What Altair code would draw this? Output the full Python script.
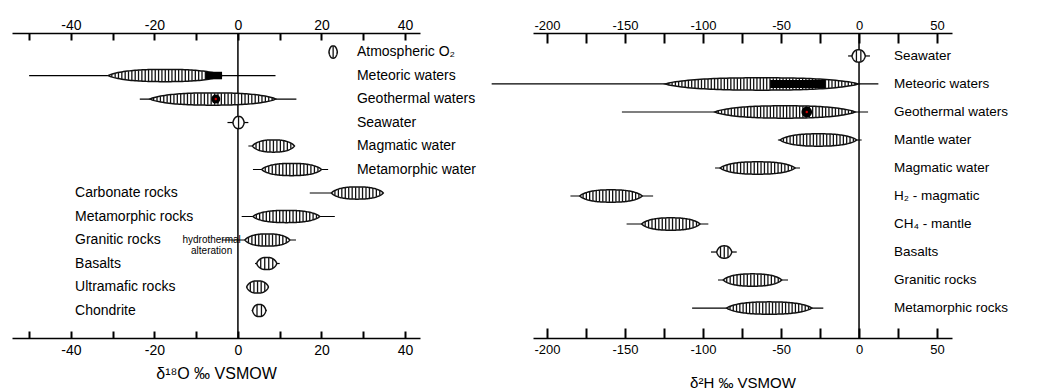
import altair as alt
import pandas as pd

FONT = "Liberation Sans"

# ---------------- δ18O panel data ----------------
o18_names = ["Atmospheric O₂", "Meteoric waters", "Geothermal waters", "Seawater",
             "Magmatic water", "Metamorphic water", "Carbonate rocks", "Metamorphic rocks",
             "Granitic rocks", "Basalts", "Ultramafic rocks", "Chondrite"]
o18_kind = ["water", "water", "water", "water", "water", "water",
            "rock", "rock", "rock", "rock", "rock", "rock"]
o18_lo = [21.8, -31.0, -21.0, -1.2, 3.5, 5.7, 22.4, 3.6, 1.7, 4.5, 2.1, 3.5]
o18_hi = [23.8, -3.8, 9.0, 1.5, 13.5, 20.0, 34.8, 19.6, 12.4, 9.3, 7.3, 6.7]
o18_min = [21.8, -50.0, -23.5, -2.5, 2.5, 3.6, 17.2, 0.9, -3.8, 4.1, 2.1, 3.3]
o18_max = [23.8, 9.0, 14.0, 2.5, 13.7, 21.6, 34.8, 23.2, 13.9, 10.0, 7.3, 6.9]
o18_box_row = ["Meteoric waters"]
o18_box_lo = [-7.7]
o18_box_hi = [-3.8]
o18_dot_row = ["Geothermal waters"]
o18_dot_x = [-5.3]
o18_label_ticks = [-40, -20, 0, 20, 40]
o18_minor_ticks = [-50, -40, -30, -20, -10, 0, 10, 20, 30, 40]

# ---------------- δ2H panel data ----------------
h2_names = ["Seawater", "Meteoric waters", "Geothermal waters", "Mantle water",
            "Magmatic water", "H₂ - magmatic", "CH₄ - mantle", "Basalts",
            "Granitic rocks", "Metamorphic rocks"]
h2_lo = [-4.5, -124.0, -92.3, -50.6, -89.0, -179.0, -139.3, -91.2, -87.0, -84.8]
h2_hi = [4.0, -0.6, -2.6, -1.5, -41.0, -139.0, -102.0, -81.6, -49.6, -30.3]
h2_min = [-7.0, -235.5, -152.0, -52.0, -92.3, -185.0, -149.0, -94.9, -90.4, -107.0]
h2_max = [7.0, 12.4, 5.8, 1.7, -37.8, -132.0, -96.6, -78.4, -45.5, -22.9]
h2_box_row = ["Meteoric waters"]
h2_box_lo = [-57.0]
h2_box_hi = [-21.8]
h2_dot_row = ["Geothermal waters"]
h2_dot_x = [-33.5]
h2_label_ticks = [-200, -150, -100, -50, 0, 50]
h2_minor_ticks = [-200, -175, -150, -125, -100, -75, -50, -25, 0, 25, 50]


def make_df(names, lo, hi, mn, mx, kind=None):
    d = pd.DataFrame({"name": names, "row": list(range(len(names))),
                      "lo": lo, "hi": hi, "wmin": mn, "wmax": mx})
    d["kind"] = kind if kind is not None else ["water"] * len(names)
    return d


# spindle envelope: long flat body, tapering tips
ENV = "pow(max(0, 1 - pow(abs(datum.u), 2.6)), 0.75)"


def panel(df, box_rows, box_lo, box_hi, dot_rows, dot_x, label_ticks, minor_ticks,
          xdom, ydom, width, height, half_h, box_h, step, tick_len, dot_size,
          tick_font, label_font, label_x_water, label_x_rock, title, title_size,
          title_pad, hydro=False):
    xs = alt.Scale(domain=xdom, nice=False, zero=False)
    ys = alt.Scale(domain=ydom, nice=False, zero=False, reverse=True)
    row_of = dict(zip(df["name"], df["row"]))
    N = 60

    layers = []

    # axes (independent axes on a shared scale)
    tdf = pd.DataFrame({"v": minor_ticks})
    common = dict(grid=False, title=None)
    layers.append(alt.Chart(tdf).mark_point(opacity=0).encode(
        x=alt.X("v:Q", scale=xs, axis=alt.Axis(
            orient="top", values=label_ticks, ticks=False, tickSize=0, domain=True,
            domainColor="black", domainWidth=1.6, labelPadding=1,
            labelFontSize=tick_font, labelFont=FONT, labelColor="black",
            labelExpr="'' + datum.value", **common))))
    layers.append(alt.Chart(tdf).mark_point(opacity=0).encode(
        x=alt.X("v:Q", scale=xs, axis=alt.Axis(
            orient="top", values=minor_ticks, ticks=True, tickSize=tick_len,
            tickWidth=2, tickColor="black", offset=-tick_len, domain=False,
            labels=False, **common))))
    layers.append(alt.Chart(tdf).mark_point(opacity=0).encode(
        x=alt.X("v:Q", scale=xs, axis=alt.Axis(
            orient="bottom", values=label_ticks, ticks=False, tickSize=0, domain=True,
            domainColor="black", domainWidth=1.6, labelPadding=5,
            labelFontSize=tick_font, labelFont=FONT, labelColor="black",
            labelExpr="'' + datum.value", grid=False, title=title,
            titleFont=FONT, titleFontSize=title_size, titleFontWeight="normal",
            titleColor="black", titlePadding=title_pad))))
    layers.append(alt.Chart(tdf).mark_point(opacity=0).encode(
        x=alt.X("v:Q", scale=xs, axis=alt.Axis(
            orient="bottom", values=minor_ticks, ticks=True, tickSize=tick_len,
            tickWidth=2, tickColor="black", offset=-tick_len, domain=False,
            labels=False, **common))))

    # zero line
    layers.append(alt.Chart(pd.DataFrame({"v": [0]})).mark_rule(
        color="black", strokeWidth=1.5).encode(
        x=alt.X("v:Q", scale=xs, axis=None)))

    # whiskers
    layers.append(alt.Chart(df).mark_rule(color="black", strokeWidth=1.2).encode(
        x=alt.X("wmin:Q", scale=xs, axis=None), x2="wmax:Q",
        y=alt.Y("row:Q", scale=ys, axis=None)))

    # spindle outlines
    layers.append(alt.Chart(df).transform_calculate(
        t=f"sequence(0, {N + 1})").transform_flatten(["t"]).transform_calculate(
        u=f"2 * datum.t / {N} - 1").transform_calculate(
        ex=f"datum.lo + (datum.hi - datum.lo) * datum.t / {N}").transform_calculate(
        hh=f"{half_h} * {ENV}").transform_calculate(
        ey1="datum.row - datum.hh").transform_calculate(
        ey2="datum.row + datum.hh").mark_area(
        fill="white", stroke="#111111", strokeWidth=1.5, orient="vertical").encode(
        x=alt.X("ex:Q", scale=xs, axis=None),
        y=alt.Y("ey1:Q", scale=ys, axis=None), y2="ey2:Q",
        detail="name:N"))

    # hatching
    layers.append(alt.Chart(df).transform_calculate(
        n=f"max(2, round((datum.hi - datum.lo) / {step}) - 1)").transform_calculate(
        k="sequence(1, datum.n)").transform_flatten(["k"]).transform_calculate(
        u="2 * datum.k / datum.n - 1").transform_calculate(
        sx="datum.lo + (datum.hi - datum.lo) * datum.k / datum.n").transform_calculate(
        hh=f"{half_h * 0.95} * {ENV}").transform_calculate(
        sy1="datum.row - datum.hh").transform_calculate(
        sy2="datum.row + datum.hh").mark_rule(color="#111111", strokeWidth=1.3).encode(
        x=alt.X("sx:Q", scale=xs, axis=None),
        y=alt.Y("sy1:Q", scale=ys, axis=None), y2="sy2:Q"))

    # black bar
    bdf = pd.DataFrame({"row": [row_of[r] for r in box_rows], "lo": box_lo, "hi": box_hi})
    layers.append(alt.Chart(bdf).transform_calculate(
        y1=f"datum.row - {box_h}").transform_calculate(
        y2=f"datum.row + {box_h}").mark_rect(color="black").encode(
        x=alt.X("lo:Q", scale=xs, axis=None), x2="hi:Q",
        y=alt.Y("y1:Q", scale=ys, axis=None), y2="y2:Q"))

    # black dot with red centre
    ddf = pd.DataFrame({"row": [row_of[r] for r in dot_rows], "x": dot_x})
    layers.append(alt.Chart(ddf).mark_point(filled=True, color="black", opacity=1,
                                            size=dot_size, shape="circle").encode(
        x=alt.X("x:Q", scale=xs, axis=None), y=alt.Y("row:Q", scale=ys, axis=None)))
    layers.append(alt.Chart(ddf).mark_point(filled=True, color="#d40000", opacity=1,
                                            size=6, shape="circle").encode(
        x=alt.X("x:Q", scale=xs, axis=None), y=alt.Y("row:Q", scale=ys, axis=None)))

    # labels
    layers.append(alt.Chart(df).transform_filter("datum.kind == 'water'").mark_text(
        align="left", baseline="middle", font=FONT, fontSize=label_font,
        color="black").encode(
        x=alt.X(datum=label_x_water, scale=xs, axis=None),
        y=alt.Y("row:Q", scale=ys, axis=None), text="name:N"))
    if label_x_rock is not None:
        layers.append(alt.Chart(df).transform_filter("datum.kind == 'rock'").mark_text(
            align="left", baseline="middle", font=FONT, fontSize=label_font,
            color="black").encode(
            x=alt.X(datum=label_x_rock, scale=xs, axis=None),
            y=alt.Y("row:Q", scale=ys, axis=None), text="name:N"))

    if hydro:
        hdf = pd.DataFrame({"row": [row_of["Granitic rocks"]], "x": [-6.3],
                            "txt": ["hydrothermal\nalteration"]})
        layers.append(alt.Chart(hdf).mark_text(
            align="center", baseline="middle", font=FONT, fontSize=10,
            lineBreak="\n", lineHeight=11, color="black").encode(
            x=alt.X("x:Q", scale=xs, axis=None),
            y=alt.Y("row:Q", scale=ys, axis=None), text="txt:N"))

    return alt.layer(*layers).resolve_axis(x="independent").properties(
        width=width, height=height)


o18_df = make_df(o18_names, o18_lo, o18_hi, o18_min, o18_max, o18_kind)
h2_df = make_df(h2_names, h2_lo, h2_hi, h2_min, h2_max)

left = panel(o18_df, o18_box_row, o18_box_lo, o18_box_hi, o18_dot_row, o18_dot_x,
             o18_label_ticks, o18_minor_ticks,
             xdom=[-54.1, 43.6], ydom=[-0.81, 12.17], width=408, height=305,
             half_h=0.26, box_h=0.16, step=0.78, tick_len=7, dot_size=80,
             tick_font=14, label_font=14, label_x_water=28.5, label_x_rock=-39.0,
             title="δ¹⁸O ‰ VSMOW", title_size=16, title_pad=8, hydro=True)

right = panel(h2_df, h2_box_row, h2_box_lo, h2_box_hi, h2_dot_row, h2_dot_x,
              h2_label_ticks, h2_minor_ticks,
              xdom=[-209.0, 59.6], ydom=[-0.82, 10.07], width=419, height=305,
              half_h=0.22, box_h=0.14, step=2.05, tick_len=10, dot_size=115,
              tick_font=13, label_font=13.5, label_x_water=22.4, label_x_rock=None,
              title="δ²H ‰ VSMOW", title_size=15, title_pad=19)

chart = alt.hconcat(left, right, spacing=113, bounds="flush").properties(
    padding={"left": 4, "top": 10, "right": 0, "bottom": 0},
    background="white",
).configure_view(stroke=None)

chart.save("out.html", embed_options={"renderer": "svg", "actions": False})
